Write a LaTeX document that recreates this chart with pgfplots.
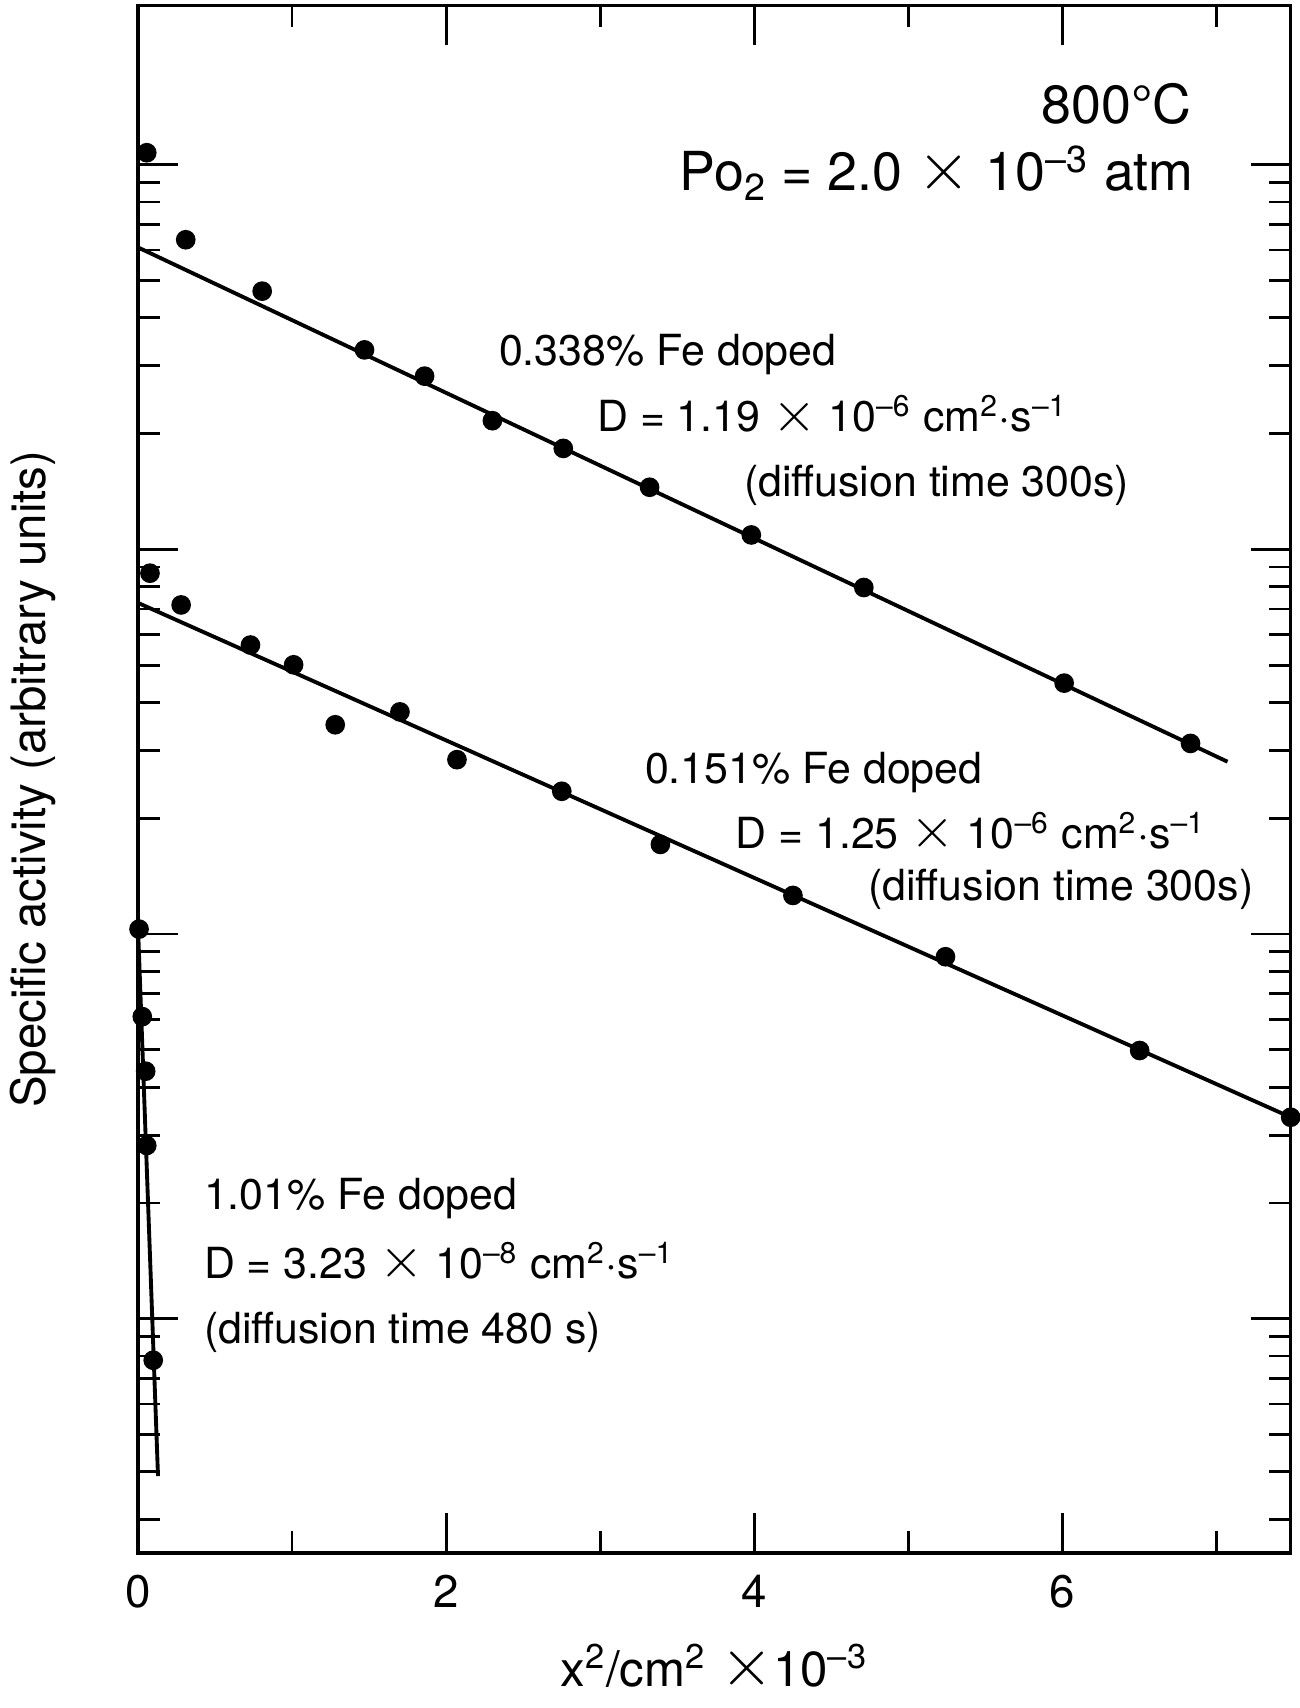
\documentclass[border=0pt]{standalone}
\usepackage{fontspec}
\setmainfont{TeX Gyre Heros}
\usepackage{graphicx}
\usepackage{pgfplots}
\pgfplotsset{compat=1.18}

\newcommand{\annfont}{\fontsize{12.2}{14}\selectfont}
\newcommand{\hdrfont}{\fontsize{15.3}{18}\selectfont}
% thin, tall multiplication sign, as in the original lettering
\newcommand{\tms}{\raisebox{0.02em}{\scalebox{1.35}{$\times$}}}

\begin{document}
\begin{tikzpicture}
\begin{axis}[
    name=ax,
    scale only axis,
    width=11.53cm, height=15.48cm,
    ymode=log,
    xmin=0, xmax=7.48,
    ymin=0.246, ymax=2594,
    axis line style={line width=1pt},
    xtick={0,2,4,6}, minor xtick={1,3,5,7},
    ytick={1,10,100,1000}, yticklabels={},
    minor ytick={0.3,0.4,0.5,0.6,0.7,0.8,0.9,2,3,4,5,6,7,8,9,20,30,40,50,60,70,80,90,200,300,400,500,600,700,800,900},
    xtick pos=both, ytick pos=both,
    tick align=inside,
    major tick length=0.4cm, minor tick length=0.22cm,
    tick style={black, line width=0.8pt},
    /pgf/number format/assume math mode=true,
    xticklabel style={font=\fontsize{13}{15}\selectfont, yshift=-0.1cm},
    xlabel={x\textsuperscript{2}/cm\textsuperscript{2} \tms10\textsuperscript{–3}},
    ylabel={Specific activity (arbitrary units)},
    xlabel style={at={(axis description cs:0.5,-0.074)}, anchor=center, font=\fontsize{14}{16}\selectfont},
    ylabel style={at={(axis description cs:-0.091,0.5)}, anchor=center, font=\fontsize{13.5}{16}\selectfont},
    clip=false,
]
% 0.338% Fe doped
\addplot[only marks, mark=*, mark size=2.6pt, black, mark options={fill=black}] coordinates {
    (0.057,1074) (0.31,638) (0.806,469) (1.47,330) (1.86,282) (2.30,216)
    (2.76,183) (3.32,145) (3.98,109) (4.71,79.6) (6.01,44.9) (6.83,31.3)};
\addplot[black, line width=1.1pt] coordinates {(0,609.5) (7.07,28.05)};
% 0.151% Fe doped
\addplot[only marks, mark=*, mark size=2.6pt, black, mark options={fill=black}] coordinates {
    (0.078,86.7) (0.28,71.7) (0.73,56.4) (1.01,50.1) (1.28,35.0) (1.70,37.8)
    (2.07,28.4) (2.75,23.5) (3.39,17.1) (4.25,12.6) (5.24,8.73) (6.50,4.98) (7.48,3.34)};
\addplot[black, line width=1.1pt] coordinates {(0,72.6) (7.48,3.34)};
% 1.01% Fe doped
\addplot[only marks, mark=*, mark size=2.6pt, black, mark options={fill=black}] coordinates {
    (0.007,10.3) (0.028,6.10) (0.05,4.40) (0.057,2.82) (0.099,0.78)};
\addplot[black, line width=1.1pt] coordinates {(0,10.5) (0.13,0.39)};

\node[anchor=base east, inner sep=0, font=\hdrfont] at (axis cs:6.841,1282) {800°C};
\node[anchor=base east, inner sep=0, font=\hdrfont] at (axis cs:6.855,855) {Po\textsubscript{2} = 2.0 \tms\ 10\textsuperscript{–3} atm};

\node[anchor=base west, inner sep=0, font=\annfont] at (axis cs:2.339,301) {0.338\% Fe doped};
\node[anchor=base west, inner sep=0, font=\annfont] at (axis cs:2.975,202) {D = 1.19 \tms\ 10\textsuperscript{–6} cm\textsuperscript{2}·s\textsuperscript{–1}};
\node[anchor=base west, inner sep=0, font=\annfont] at (axis cs:3.929,137) {(diffusion time 300s)};

\node[anchor=base west, inner sep=0, font=\annfont] at (axis cs:3.286,24.6) {0.151\% Fe doped};
\node[anchor=base west, inner sep=0, font=\annfont] at (axis cs:3.873,16.7) {D = 1.25 \tms\ 10\textsuperscript{–6} cm\textsuperscript{2}·s\textsuperscript{–1}};
\node[anchor=base west, inner sep=0, font=\annfont] at (axis cs:4.735,12.2) {(diffusion time 300s)};

\node[anchor=base west, inner sep=0, font=\annfont] at (axis cs:0.424,1.92) {1.01\% Fe doped};
\node[anchor=base west, inner sep=0, font=\annfont] at (axis cs:0.424,1.27) {D = 3.23 \tms\ 10\textsuperscript{–8} cm\textsuperscript{2}·s\textsuperscript{–1}};
\node[anchor=base west, inner sep=0, font=\annfont] at (axis cs:0.424,0.861) {(diffusion time 480 s)};
\end{axis}
\pgfresetboundingbox
\path[use as bounding box] ([shift={(-1.38cm,-1.55cm)}]ax.south west) rectangle ([shift={(0.09cm,0.054cm)}]ax.north east);
\end{tikzpicture}
\end{document}
